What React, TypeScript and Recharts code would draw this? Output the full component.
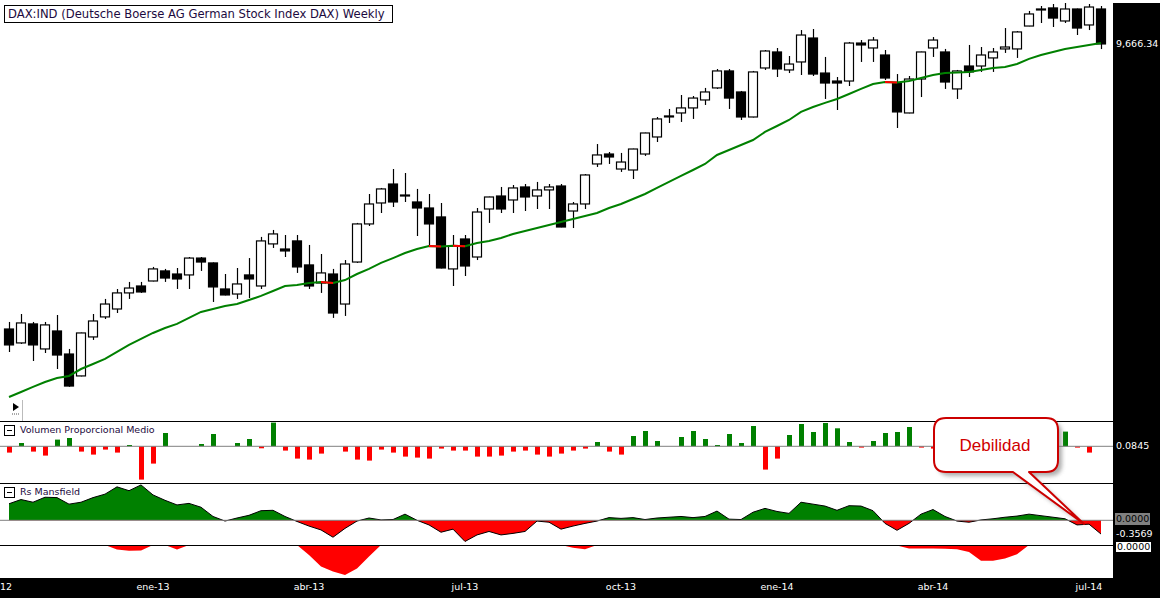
import React from 'react';
import { ComposedChart, Bar, Line, Area, XAxis, YAxis, ReferenceLine, Cell } from 'recharts';

// weekly bars, Monday of each week
const weeks = [
  '2012-10-08', '2012-10-15', '2012-10-22', '2012-10-29', '2012-11-05', '2012-11-12', '2012-11-19', '2012-11-26',
  '2012-12-03', '2012-12-10', '2012-12-17', '2012-12-24', '2012-12-31',
  '2013-01-07', '2013-01-14', '2013-01-21', '2013-01-28', '2013-02-04', '2013-02-11', '2013-02-18', '2013-02-25',
  '2013-03-04', '2013-03-11', '2013-03-18', '2013-03-25', '2013-04-01', '2013-04-08', '2013-04-15', '2013-04-22',
  '2013-04-29', '2013-05-06', '2013-05-13', '2013-05-20', '2013-05-27', '2013-06-03', '2013-06-10', '2013-06-17',
  '2013-06-24', '2013-07-01', '2013-07-08', '2013-07-15', '2013-07-22', '2013-07-29', '2013-08-05', '2013-08-12',
  '2013-08-19', '2013-08-26', '2013-09-02', '2013-09-09', '2013-09-16', '2013-09-23', '2013-09-30', '2013-10-07',
  '2013-10-14', '2013-10-21', '2013-10-28', '2013-11-04', '2013-11-11', '2013-11-18', '2013-11-25', '2013-12-02',
  '2013-12-09', '2013-12-16', '2013-12-23', '2013-12-30', '2014-01-06', '2014-01-13', '2014-01-20', '2014-01-27',
  '2014-02-03', '2014-02-10', '2014-02-17', '2014-02-24', '2014-03-03', '2014-03-10', '2014-03-17', '2014-03-24',
  '2014-03-31', '2014-04-07', '2014-04-14', '2014-04-21', '2014-04-28', '2014-05-05', '2014-05-12', '2014-05-19',
  '2014-05-26', '2014-06-02', '2014-06-09', '2014-06-16', '2014-06-23', '2014-06-30', '2014-07-07',
];

const opens = [
  7343, 7245, 7379, 7203, 7329, 7168, 7018, 7287, 7429, 7486,
  7603, 7654, 7691, 7766, 7743, 7736, 7863, 7826, 7632, 7595,
  7736, 7654, 7971, 7932, 7994, 7811, 7676, 7743, 7522, 7833,
  8126, 8292, 8445, 8352, 8300, 8252, 8181, 7781, 8009, 7871,
  8244, 8348, 8316, 8421, 8348, 8397, 8429, 8228, 8284, 8610,
  8693, 8568, 8560, 8693, 8837, 9018, 9044, 9088, 9158, 9265,
  9418, 9229, 9009, 9445, 9592, 9427, 9500, 9722, 9399, 9327,
  9327, 9675, 9629, 9564, 9309, 9044, 9345, 9629, 9592, 9256,
  9463, 9463, 9537, 9620, 9620, 9835, 9998, 10008, 9883, 9998,
  9845, 9998,
];
const highs = [
  7393, 7450, 7393, 7393, 7443, 7203, 7318, 7450, 7559, 7632,
  7684, 7684, 7796, 7781, 7788, 7871, 7871, 7830, 7743, 7788,
  7863, 8025, 8079, 8040, 8040, 7963, 7894, 7781, 7848, 8134,
  8364, 8413, 8568, 8535, 8405, 8364, 8292, 8040, 8040, 8252,
  8343, 8421, 8437, 8445, 8462, 8445, 8445, 8300, 8527, 8777,
  8710, 8702, 8738, 8874, 9009, 9079, 9202, 9193, 9265, 9436,
  9436, 9238, 9418, 9610, 9629, 9555, 9797, 9807, 9546, 9363,
  9685, 9703, 9731, 9610, 9390, 9372, 9595, 9731, 9620, 9427,
  9657, 9638, 9629, 9816, 9788, 9979, 10027, 10046, 10056, 10002,
  10046, 10027,
];
const lows = [
  7182, 7238, 7120, 7175, 7065, 6945, 7015, 7266, 7414, 7457,
  7559, 7603, 7688, 7684, 7632, 7632, 7766, 7537, 7585, 7559,
  7566, 7632, 7940, 7871, 7751, 7632, 7603, 7422, 7436, 7826,
  8110, 8212, 8260, 8300, 8032, 7955, 7785, 7654, 7728, 7848,
  8134, 8212, 8212, 8228, 8244, 8244, 8100, 8094, 8244, 8585,
  8610, 8544, 8486, 8677, 8794, 8957, 8966, 8992, 9114, 9256,
  9079, 8983, 9005, 9427, 9363, 9399, 9381, 9372, 9167, 9070,
  9282, 9500, 9500, 9336, 8914, 9041, 9184, 9546, 9256, 9167,
  9363, 9409, 9409, 9583, 9537, 9833, 9864, 9826, 9864, 9750,
  9797, 9619,
];
const closes = [
  7231, 7386, 7231, 7372, 7161, 6950, 7315, 7400, 7522, 7603,
  7639, 7610, 7781, 7713, 7706, 7863, 7833, 7647, 7588, 7669,
  7706, 7994, 8048, 7917, 7796, 7654, 7751, 7457, 7818, 8126,
  8284, 8405, 8300, 8356, 8252, 8126, 7788, 7955, 7803, 8220,
  8340, 8244, 8413, 8340, 8397, 8421, 8102, 8284, 8519, 8685,
  8668, 8626, 8735, 8871, 8992, 9014, 9088, 9175, 9229, 9418,
  9175, 9009, 9409, 9601, 9436, 9481, 9750, 9390, 9309, 9309,
  9675, 9657, 9703, 9354, 9053, 9345, 9592, 9703, 9318, 9418,
  9409, 9564, 9592, 9638, 9779, 9950, 9995, 9911, 9998, 9816,
  10017, 9666.34,
];
// 30-week moving average
const ma = [
  6877, 6910, 6944, 6977, 7004, 7018, 7065, 7099, 7134, 7182,
  7231, 7273, 7315, 7350, 7379, 7422, 7465, 7486, 7508, 7522,
  7551, 7581, 7617, 7654, 7661, 7676, 7684, 7676, 7698, 7743,
  7781, 7826, 7863, 7901, 7932, 7955, 7951, 7956, 7953, 7978,
  7994, 8017, 8048, 8071, 8094, 8118, 8141, 8165, 8189, 8212,
  8252, 8284, 8324, 8364, 8413, 8462, 8511, 8560, 8610, 8685,
  8727, 8769, 8811, 8880, 8931, 8983, 9053, 9096, 9132, 9167,
  9211, 9256, 9300, 9318, 9314, 9327, 9354, 9381, 9399, 9404,
  9409, 9427, 9445, 9454, 9481, 9528, 9564, 9592, 9620, 9638,
  9657, 9675,
];
// weeks where the average turned down (segment starts), split in two series so they don't join
const maDownA = [26, 37];
const maDownB = [35, 73];

const volume = [
  -6.3, 3.3, -5.3, -9.3, 6.7, 8.3, -5.3, -8.3, -3.3, -6.3,
  1.3, -33.3, -17.3, 13.3, 0, 0, 2.3, 12.3, 0, 3.3,
  7.3, -2, 23.7, -4.3, -12.3, -13.3, -7.3, 0, -5.3, -13.3,
  -14.3, -3.3, -6.3, -10.3, -11.3, -12.3, -2.3, -4.3, -4.3, -10.3,
  -10.3, -9.3, -5.3, -4.3, -8.3, -10.3, -7.3, -4.3, -2.3, 4.3,
  -5.3, -8.3, 10.3, 15.3, 5.3, 0, 9.3, 15.3, 7.3, 1.3,
  12.3, 3.3, 20.3, -23.3, -12.3, 11.3, 22.3, 14.3, 23.3, 18,
  4.3, -1.3, 5.3, 13.3, 14.3, 19.3, -1.3, -2.3, 6, 9,
  4, -3, 8, 12, 5, 10, 7, 2, 14.7, -1.3,
  -6.3, 0,
];

const rs = [
  0.43, 0.54, 0.47, 0.6, 0.59, 0.42, 0.47, 0.59, 0.68, 0.87,
  0.77, 0.92, 0.66, 0.52, 0.4, 0.44, 0.34, 0.1, -0.02, 0.06,
  0.13, 0.25, 0.26, 0.1, -0.03, -0.15, -0.25, -0.44, -0.21, -0.02,
  0.06, 0.01, 0.02, 0.16, 0.0, -0.12, -0.31, -0.23, -0.55, -0.38,
  -0.29, -0.38, -0.34, -0.29, -0.02, -0.05, -0.23, -0.15, -0.08, -0.02,
  0.07, 0.05, 0.07, 0.02, 0.06, 0.08, 0.1, 0.07, 0.1, 0.24,
  0.03, 0.02, 0.21, 0.31, 0.23, 0.18, 0.47, 0.42, 0.37, 0.26,
  0.38, 0.37, 0.25, -0.08, -0.26, -0.08, 0.16, 0.28, 0.1, -0.02,
  -0.05, 0.01, 0.04, 0.08, 0.11, 0.16, 0.12, 0.08, 0.04, -0.12,
  -0.1, -0.3569,
];

const rsLow = [
  0, 0, 0, 0, 0, 0, 0, 0, 0, -0.12,
  -0.15, -0.14, 0, 0, -0.12, 0, 0, 0, 0, 0,
  0, 0, 0, 0, 0, -0.26, -0.56, -0.69, -0.78, -0.61,
  -0.3, 0, 0, 0, 0, 0, 0, 0, 0, 0,
  0, 0, 0, 0, 0, 0, 0, -0.07, -0.11, 0,
  0, 0, 0, 0, 0, 0, 0, 0, 0, 0,
  0, 0, 0, 0, 0, 0, 0, 0, 0, 0,
  0, 0, 0, 0, -0.01, -0.09, -0.09, -0.09, -0.1, -0.11,
  -0.18, -0.41, -0.41, -0.35, -0.24, 0, 0, 0, 0, 0,
  0, 0,
];

// first label is only partly on screen in the original ("oct-12" shows as "12")
const tickWeeks = ['2012-10-08', '2012-12-31', '2013-04-01', '2013-07-01', '2013-09-30', '2013-12-30', '2014-03-31', '2014-06-30'];
const tickLabels = ['12', 'ene-13', 'abr-13', 'jul-13', 'oct-13', 'ene-14', 'abr-14', 'jul-14'];

const rows = weeks.map((week, i) => ({
  week,
  open: opens[i],
  high: highs[i],
  low: lows[i],
  close: closes[i],
  ma: ma[i],
  maRedA: maDownA.includes(i) || maDownA.includes(i - 1) ? ma[i] : null,
  maRedB: maDownB.includes(i) || maDownB.includes(i - 1) ? ma[i] : null,
  vol: volume[i],
  rs: rs[i],
  rsLow: rsLow[i],
}));

const PRICE_DOMAIN = [6726, 10085];
const VOL_DOMAIN = [-36.7, 25.3];
const RS_DOMAIN = [-0.642, 0.97];
const LOW_DOMAIN = [-0.858, 0];

const MARGIN = { top: 0, right: 47, bottom: 0, left: 0 };
// band axis (charts with bars) and point axis (area-only charts) padded so both put week i at the same x
const X_PAD = { left: 3, right: 6 };
const X_PAD_POINT = { left: 9, right: 12 };
const FONT = '"DejaVu Sans", Verdana, sans-serif';
const LABEL_COLOR = '#1c0a40';

function Candle(props: any) {
  const { x, y, width, height, payload } = props;
  if (!payload || height == null) return null;
  const { open, close, high, low } = payload;
  const lh = Math.log(high);
  const ll = Math.log(low);
  const py = (v: number) => y + (height * (lh - Math.log(v))) / (lh - ll);
  const cx = Math.round(x + width / 2) + 0.5;
  const up = close >= open;
  const top = py(Math.max(open, close));
  const bot = py(Math.min(open, close));
  const bx = Math.round(x) + 0.5;
  return (
    <g>
      <line x1={cx} x2={cx} y1={y} y2={y + height} stroke="#000" strokeWidth={1.2} />
      <rect
        x={bx}
        y={top}
        width={Math.round(width) - 1}
        height={Math.max(bot - top, 1)}
        fill={up ? '#fff' : '#000'}
        stroke="#000"
        strokeWidth={1.2}
      />
    </g>
  );
}

function MonthTick(props: any) {
  const { x, y, payload } = props;
  const k = tickWeeks.indexOf(payload.value);
  if (k < 0) return null;
  const first = k === 0;
  return (
    <text
      x={first ? x - 9 : x}
      y={y}
      dy="0.35em"
      textAnchor={first ? 'start' : 'middle'}
      fill="#fff"
      fontSize={9.5}
      fontFamily={FONT}
    >
      {tickLabels[k]}
    </text>
  );
}

function PanelLabel({ top, text }: { top: number; text: string }) {
  return (
    <div style={{ position: 'absolute', left: 4, top, display: 'flex', alignItems: 'center', gap: 5, zIndex: 5 }}>
      <div style={{ width: 9, height: 9, border: '1px solid #000', position: 'relative', background: '#fff' }}>
        <div style={{ position: 'absolute', left: 2, right: 2, top: 4, height: 1, background: '#000' }} />
      </div>
      <span style={{ fontFamily: FONT, fontSize: 9.5, color: LABEL_COLOR, lineHeight: '12px' }}>{text}</span>
    </div>
  );
}

function RightLabel({ top, text, bg, color, border }: { top: number; text: string; bg?: string; color: string; border?: boolean }) {
  return (
    <div
      style={{
        position: 'absolute',
        left: 1115,
        top: top - 6,
        height: border ? 10 : 12,
        lineHeight: border ? '10px' : '12px',
        padding: '0 1px',
        fontFamily: FONT,
        fontSize: 9.5,
        color,
        background: bg,
        border: border ? '1px solid #000' : undefined,
        zIndex: 6,
      }}
    >
      {text}
    </div>
  );
}

const hline = (top: number) => (
  <div style={{ position: 'absolute', left: 0, top, width: 1113, height: 1, background: '#000', zIndex: 4 }} />
);

export default function App() {
  const lastClose = closes[closes.length - 1].toLocaleString('en-US', { minimumFractionDigits: 2 });
  const lastRs = rs[rs.length - 1].toFixed(4);
  const zeroFrac = RS_DOMAIN[1] / (RS_DOMAIN[1] - RS_DOMAIN[0]);

  return (
    <div style={{ position: 'absolute', left: 0, top: 0, width: 1160, height: 598, background: '#fff', overflow: 'hidden' }}>
      {/* price panel */}
      <div style={{ position: 'absolute', left: 0, top: 0 }}>
        <ComposedChart width={1160} height={420} data={rows} margin={MARGIN}>
          <XAxis dataKey="week" hide padding={X_PAD} />
          <YAxis hide scale="log" domain={PRICE_DOMAIN} allowDataOverflow />
          <Line dataKey="ma" stroke="#008000" strokeWidth={2} dot={false} activeDot={false} isAnimationActive={false} />
          <Line dataKey="maRedA" stroke="#ff0000" strokeWidth={2} dot={false} activeDot={false} connectNulls={false} isAnimationActive={false} />
          <Line dataKey="maRedB" stroke="#ff0000" strokeWidth={2} dot={false} activeDot={false} connectNulls={false} isAnimationActive={false} />
          <Bar
            dataKey={(d: any) => [d.low, d.high]}
            barSize={10}
            isAnimationActive={false}
            shape={(p: any) => <Candle {...p} />}
          />
        </ComposedChart>
      </div>

      {/* volume panel */}
      <div style={{ position: 'absolute', left: 0, top: 421 }}>
        <ComposedChart width={1160} height={62} data={rows} margin={MARGIN}>
          <XAxis dataKey="week" hide padding={X_PAD} />
          <YAxis hide domain={VOL_DOMAIN} allowDataOverflow />
          <ReferenceLine y={0} stroke="#808080" strokeWidth={1} />
          <Bar dataKey="vol" barSize={5} isAnimationActive={false}>
            {rows.map((r) => (
              <Cell key={r.week} fill={r.vol >= 0 ? '#008000' : '#ff0000'} />
            ))}
          </Bar>
        </ComposedChart>
      </div>

      {/* Rs Mansfield panel */}
      <div style={{ position: 'absolute', left: 0, top: 483 }}>
        <ComposedChart width={1160} height={62} data={rows} margin={MARGIN}>
          <defs>
            <linearGradient id="rsSplit" gradientUnits="userSpaceOnUse" x1="0" y1="0" x2="0" y2="62">
              <stop offset={zeroFrac} stopColor="#008000" />
              <stop offset={zeroFrac} stopColor="#ff0000" />
            </linearGradient>
          </defs>
          <XAxis dataKey="week" hide padding={X_PAD_POINT} />
          <YAxis hide domain={RS_DOMAIN} allowDataOverflow />
          <Area
            type="linear"
            dataKey="rs"
            baseValue={0}
            stroke="#000"
            strokeWidth={1}
            fill="url(#rsSplit)"
            fillOpacity={1}
            dot={false}
            activeDot={false}
            isAnimationActive={false}
          />
          <ReferenceLine y={0} stroke="#808080" strokeWidth={1} />
        </ComposedChart>
      </div>

      {/* bottom strip + month axis */}
      <div style={{ position: 'absolute', left: 0, top: 578, width: 1160, height: 20, background: '#000' }} />
      <div style={{ position: 'absolute', left: 0, top: 545, zIndex: 3 }}>
        <ComposedChart width={1160} height={53} data={rows} margin={MARGIN}>
          <XAxis
            dataKey="week"
            padding={X_PAD_POINT}
            height={20}
            axisLine={false}
            tickLine={false}
            tickSize={9}
            tickMargin={0}
            ticks={tickWeeks}
            interval={0}
            tick={(p: any) => <MonthTick {...p} />}
          />
          <YAxis hide domain={LOW_DOMAIN} allowDataOverflow />
          <Area
            type="linear"
            dataKey="rsLow"
            baseValue={0}
            stroke="none"
            fill="#ff0000"
            fillOpacity={1}
            dot={false}
            activeDot={false}
            isAnimationActive={false}
          />
        </ComposedChart>
      </div>

      {hline(421)}
      {hline(483)}
      {hline(545)}

      {/* right value strip */}
      <div style={{ position: 'absolute', left: 1113, top: 3, width: 47, height: 595, background: '#000', zIndex: 5 }} />
      <RightLabel top={44} text={lastClose} color="#fff" />
      <RightLabel top={446} text="0.0845" color="#fff" />
      <RightLabel top={519} text="0.0000" color="#000" bg="#808080" />
      <RightLabel top={534} text={lastRs} color="#fff" />
      <RightLabel top={547} text="0.0000" color="#000" bg="#fff" border />

      {/* title */}
      <div
        style={{
          position: 'absolute',
          left: 4,
          top: 5,
          width: 384,
          height: 16,
          border: '1px solid #000',
          background: '#fff',
          fontFamily: FONT,
          fontSize: 11.6,
          lineHeight: '16px',
          color: LABEL_COLOR,
          paddingLeft: 3,
          boxSizing: 'content-box',
          whiteSpace: 'nowrap',
          overflow: 'hidden',
          zIndex: 5,
        }}
      >
        DAX:IND (Deutsche Boerse AG German Stock Index DAX) Weekly
      </div>

      <PanelLabel top={424} text="Volumen Proporcional Medio" />
      <PanelLabel top={486} text="Rs Mansfield" />

      {/* small scroll marker */}
      <svg style={{ position: 'absolute', left: 0, top: 398, zIndex: 5 }} width={30} height={23}>
        <path d="M13 5 L19 9 L13 13 Z" fill="#000" />
        <path d="M12 16 H20" stroke="#555" strokeWidth={1} strokeDasharray="1 1" />
        <line x1={22.5} y1={2} x2={22.5} y2={23} stroke="#bbb" strokeWidth={1} />
      </svg>

      {/* callout */}
      <svg style={{ position: 'absolute', left: 0, top: 0, zIndex: 7, pointerEvents: 'none' }} width={1160} height={598}>
        <defs>
          <filter id="soft" x="-20%" y="-20%" width="140%" height="140%">
            <feGaussianBlur stdDeviation="2" />
          </filter>
        </defs>
        <path
          d="M946 418 H1046 Q1058 418 1058 430 V460 Q1058 472 1046 472 H1029 L1084 524 L1013 472 H946 Q934 472 934 460 V430 Q934 418 946 418 Z"
          fill="#777"
          opacity={0.6}
          transform="translate(4 4)"
          filter="url(#soft)"
        />
        <path
          d="M946 418 H1046 Q1058 418 1058 430 V460 Q1058 472 1046 472 H1029 L1084 524 L1013 472 H946 Q934 472 934 460 V430 Q934 418 946 418 Z"
          fill="#fff"
          stroke="#cc0000"
          strokeWidth={2}
          strokeLinejoin="round"
        />
        <text x={995} y={451} textAnchor="middle" fontFamily='"Liberation Sans", Arial, sans-serif' fontSize={17} fill="#d00000">
          Debilidad
        </text>
      </svg>
    </div>
  );
}
